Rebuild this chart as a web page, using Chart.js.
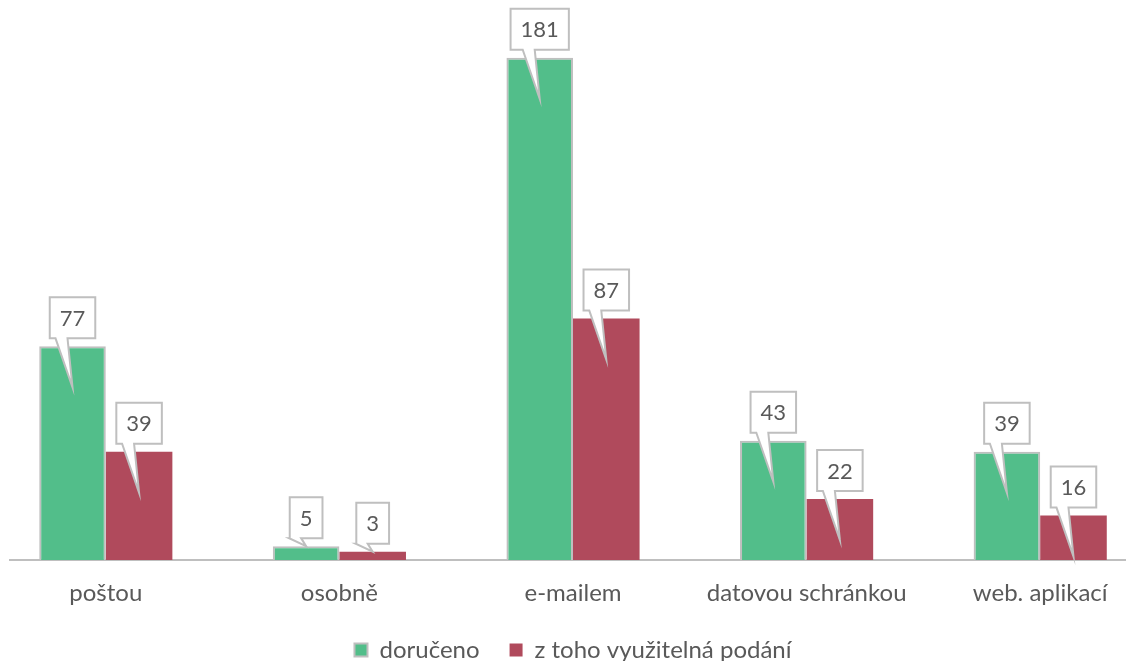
<!DOCTYPE html>
<html>
<head>
<meta charset="utf-8">
<script src="https://cdn.jsdelivr.net/npm/chart.js@4/dist/chart.umd.min.js"></script>
<style>
  html, body { margin: 0; padding: 0; background: #fff; overflow: hidden; }
  #wrap { position: absolute; left: -11px; top: 0; width: 1168px; height: 672px; }
</style>
</head>
<body>
<div id="wrap"><canvas id="chart"></canvas></div>
<script>
// data
const categories = ['poštou', 'osobně', 'e-mailem', 'datovou schránkou', 'web. aplikací']
const seriesNames = ['doručeno', 'z toho využitelná podání']
const doruceno = [77, 5, 181, 43, 39]
const vyuzitelna = [39, 3, 87, 22, 16]

const FONT = 'Lato'
const TEXT = '#595959'
const GREY = '#bfbfbf'

// baseline from a little right of the plot edge, like the original
const baseline = {
  id: 'baseline',
  beforeDatasetsDraw(chart) {
    const ctx = chart.ctx
    const y = chart.scales.y.getPixelForValue(0)
    ctx.save()
    ctx.strokeStyle = GREY
    ctx.lineWidth = 2
    ctx.beginPath()
    ctx.moveTo(chart.chartArea.left + 20, y)
    ctx.lineTo(chart.chartArea.right, y)
    ctx.stroke()
    ctx.restore()
  }
}

// speech bubble value labels
const callouts = {
  id: 'callouts',
  afterDatasetsDraw(chart) {
    const ctx = chart.ctx
    ctx.save()
    ctx.font = '22px ' + FONT
    chart.data.datasets.forEach((ds, di) => {
      const meta = chart.getDatasetMeta(di)
      meta.data.forEach((bar, i) => {
        const text = String(ds.data[i])
        const x = bar.x
        const top = bar.y
        const h = bar.base - top
        const tipY = h > 41 ? top + 41 : top
        const w = ctx.measureText(text).width + 20
        const bh = 41
        const bottom = top - 8
        const left = x - w / 2
        ctx.beginPath()
        ctx.moveTo(left, bottom - bh)
        ctx.lineTo(left + w, bottom - bh)
        ctx.lineTo(left + w, bottom)
        ctx.lineTo(x - 5, bottom)
        ctx.lineTo(x, tipY)
        ctx.lineTo(x - 17, bottom)
        ctx.lineTo(left, bottom)
        ctx.closePath()
        ctx.fillStyle = '#fff'
        ctx.fill()
        ctx.strokeStyle = GREY
        ctx.lineWidth = 2
        ctx.stroke()
        ctx.fillStyle = TEXT
        ctx.textAlign = 'center'
        ctx.textBaseline = 'middle'
        ctx.fillText(text, x, bottom - bh / 2 + 1)
      })
    })
    ctx.restore()
  }
}

const chart = new Chart(document.getElementById('chart'), {
  type: 'bar',
  data: {
    labels: categories,
    datasets: [
      {
        label: seriesNames[0],
        data: doruceno,
        backgroundColor: '#52be8a',
        borderColor: GREY,
        borderWidth: 2
      },
      {
        label: seriesNames[1],
        data: vyuzitelna,
        backgroundColor: '#b04a5c',
        borderWidth: 0
      }
    ]
  },
  options: {
    responsive: true,
    maintainAspectRatio: false,
    animation: false,
    categoryPercentage: 0.57,
    barPercentage: 1,
    layout: { padding: { top: 5, bottom: 0, left: 0, right: 0 } },
    scales: {
      x: {
        grid: { display: false, drawTicks: false },
        border: { display: false },
        ticks: {
          color: TEXT,
          font: { family: FONT, size: 24 },
          padding: 19,
          maxRotation: 0,
          autoSkip: false
        },
        // keep the gap to the legend tight, labels still fit
        afterFit(scale) { scale.height = 48 }
      },
      y: { display: false, min: 0, max: 200 }
    },
    plugins: {
      tooltip: { enabled: false },
      legend: {
        position: 'bottom',
        labels: {
          color: TEXT,
          font: { family: FONT, size: 24 },
          boxWidth: 13,
          boxHeight: 13,
          padding: 30
        }
      }
    }
  },
  plugins: [baseline, callouts]
})
</script>
</body>
</html>
